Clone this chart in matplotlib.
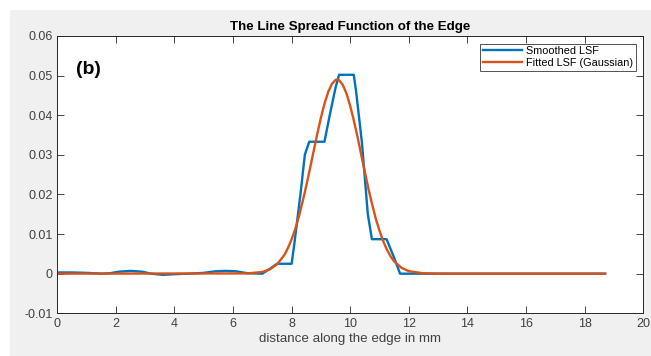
import matplotlib
matplotlib.use("Agg")
import matplotlib.pyplot as plt
from matplotlib.patches import Rectangle

plt.rcParams['font.family'] = ['Liberation Sans', 'DejaVu Sans']

# smoothed LSF (blue)
smooth_x = [0, 0.5, 1.0, 1.5, 1.8, 2.1, 2.5, 2.9, 3.2, 3.6, 4.1, 4.5, 5.0, 5.4, 5.75, 6.1,
            6.5, 7.0, 7.25, 7.5, 8.0, 8.1, 8.3, 8.45, 8.6, 9.12, 9.3, 9.5, 9.62, 10.12, 10.2,
            10.4, 10.6, 10.74, 11.24, 11.5, 11.7, 12.0, 18.7]
smooth_y = [0.0003, 0.0003, 0.0002, 0.0, 0.0001, 0.0005, 0.0007, 0.0005, 0.0, -0.0003, -0.0001,
            0.0, 0.0002, 0.0006, 0.0007, 0.0006, 0.0001, 0.0, 0.0012, 0.0025, 0.0025, 0.008,
            0.020, 0.030, 0.0333, 0.0333, 0.040, 0.047, 0.0502, 0.0502, 0.046, 0.033, 0.015,
            0.0087, 0.0087, 0.004, 0.0, 0.0, 0.0]

# fitted gaussian (orange)
fit_x = [0, 6.5, 7.0, 7.25, 7.5, 7.75, 7.875, 8.0, 8.125, 8.25, 8.375, 8.5, 8.625, 8.75,
         8.875, 9.0, 9.125, 9.25, 9.375, 9.5, 9.55, 9.625, 9.75, 9.875, 10.0, 10.125, 10.25,
         10.375, 10.5, 10.625, 10.75, 10.875, 11.0, 11.125, 11.25, 11.375, 11.5, 11.75,
         12.0, 12.5, 13.0, 18.7]
fit_y = [0.0, 0.00006, 0.00044, 0.00106, 0.00235, 0.0047, 0.0065, 0.0087, 0.0113, 0.0145,
         0.0182, 0.0222, 0.0265, 0.0309, 0.0353, 0.0394, 0.0430, 0.0459, 0.0479, 0.0489,
         0.0490, 0.0488, 0.0476, 0.0454, 0.0423, 0.0386, 0.0345, 0.0300, 0.0256, 0.0213,
         0.0174, 0.0138, 0.0108, 0.0082, 0.0061, 0.0044, 0.0031, 0.00148, 0.00063, 0.00009,
         0.0, 0.0]

xticks = [0, 2, 4, 6, 8, 10, 12, 14, 16, 18, 20]
yticks = [-0.01, 0, 0.01, 0.02, 0.03, 0.04, 0.05, 0.06]
ytick_labels = ['-0.01', '0', '0.01', '0.02', '0.03', '0.04', '0.05', '0.06']

fig = plt.figure(figsize=(6.51, 3.56), dpi=100, facecolor='white')
fig.patches.append(Rectangle((10 / 651, 0), 1, 1 - 10 / 356, transform=fig.transFigure,
                             facecolor='#f0f0f0', edgecolor='none', zorder=-10))
ax = fig.add_axes([0.088, 0.120, 0.900, 0.779])

grey = '#262626'
ax.plot(smooth_x, smooth_y, color='#0072BD', lw=1.7, label='Smoothed LSF')
ax.plot(fit_x, fit_y, color='#D95319', lw=1.7, label='Fitted LSF (Gaussian)')

ax.set_xlim(0, 20)
ax.set_ylim(-0.01, 0.06)
ax.set_xticks(xticks)
ax.set_yticks(yticks)
ax.set_yticklabels(ytick_labels)
ax.tick_params(direction='in', top=True, right=True, length=5, width=0.6,
               colors=grey, labelsize=9, labelcolor='#404040')
for s in ax.spines.values():
    s.set_color(grey)
    s.set_linewidth(0.7)

ax.set_title('The Line Spread Function of the Edge', fontsize=9.6, fontweight='bold',
             color='black', pad=4)
ax.set_xlabel('distance along the edge in mm', fontsize=9.6, color='#404040', labelpad=2)
ax.text(0.032, 0.88, '(b)', transform=ax.transAxes, fontsize=14, fontweight='bold',
        va='center', ha='left')

leg = ax.legend(loc='upper right', fontsize=7.8, frameon=True, fancybox=False,
                borderpad=0.25, labelspacing=0.15, handlelength=3.6, handletextpad=0.35,
                borderaxespad=0.7)
leg.get_frame().set_edgecolor(grey)
leg.get_frame().set_linewidth(0.7)

fig.savefig('out.png', dpi=100, facecolor=fig.get_facecolor())
